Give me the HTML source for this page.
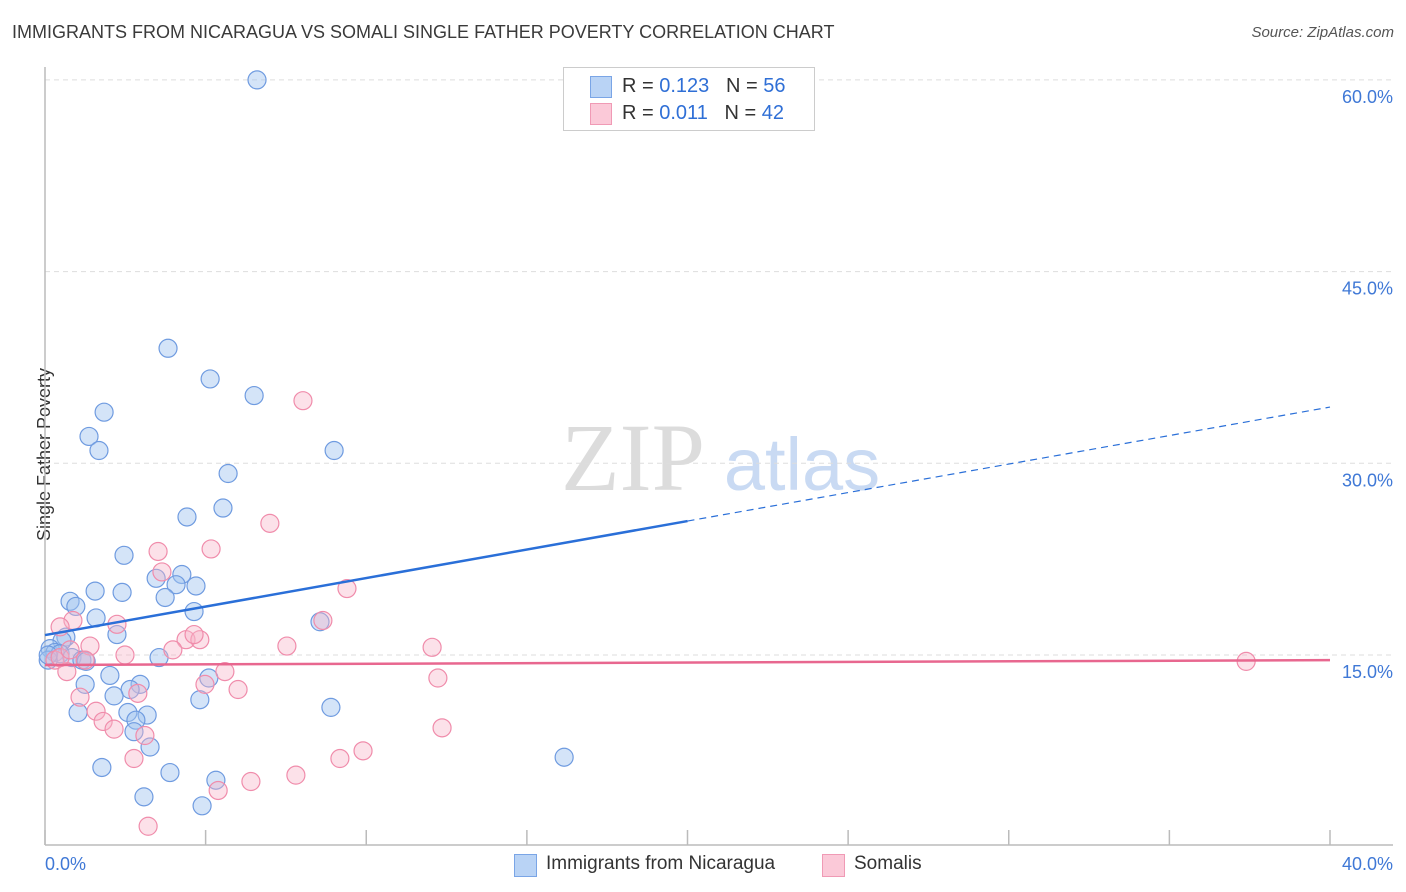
<!DOCTYPE html>
<html><head><meta charset="utf-8"><style>
body{margin:0;background:#fff;font-family:"Liberation Sans",sans-serif;}
#wrap{position:relative;width:1406px;height:892px;overflow:hidden;}
.t{position:absolute;white-space:nowrap;}
</style></head><body>
<div id="wrap">
<div class="t" style="left:12px;top:22px;font-size:18px;color:#3a3a3a;">IMMIGRANTS FROM NICARAGUA VS SOMALI SINGLE FATHER POVERTY CORRELATION CHART</div>
<div class="t" style="right:12px;top:24px;font-size:15px;color:#555;font-style:italic;">Source: ZipAtlas.com</div>
<div class="t" style="left:-42px;top:444px;font-size:18px;color:#333;transform:rotate(-90deg);">Single Father Poverty</div>
<svg id="plot" width="1406" height="892" style="position:absolute;left:0;top:0"></svg>
<div style="position:absolute;left:563px;top:67px;width:250px;height:62px;border:1px solid #ccc;background:#fff;font-size:20px;">
 <div style="position:absolute;left:26px;top:8px;width:20px;height:20px;background:#b9d3f5;border:1px solid #7aa5e6;"></div>
 <div class="t" style="left:58px;top:7px;color:#333;">R = <span style="color:#2f6fd6">0.123</span>&nbsp;&nbsp;&nbsp;N = <span style="color:#2f6fd6">56</span></div>
 <div style="position:absolute;left:26px;top:35px;width:20px;height:20px;background:#fbc9d8;border:1px solid #f09ab5;"></div>
 <div class="t" style="left:58px;top:34px;color:#333;">R = <span style="color:#2f6fd6">0.011</span>&nbsp;&nbsp;&nbsp;N = <span style="color:#2f6fd6">42</span></div>
</div>
<div style="position:absolute;left:514px;top:854px;width:21px;height:21px;background:#b9d3f5;border:1px solid #7aa5e6;"></div>
<div class="t" style="left:546px;top:853px;font-size:19px;color:#333;">Immigrants from Nicaragua</div>
<div style="position:absolute;left:822px;top:854px;width:21px;height:21px;background:#fbc9d8;border:1px solid #f09ab5;"></div>
<div class="t" style="left:854px;top:853px;font-size:19px;color:#333;">Somalis</div>
</div>
<script>
const xTicks=[0,5,10,15,20,25,30,35,40];
const yTicks=[15,30,45,60];
const yTickLabels=["15.0%","30.0%","45.0%","60.0%"];
const xEndLabels=["0.0%","40.0%"];
const blueX=[6.60,3.83,5.14,6.51,1.84,1.37,1.68,9.00,5.70,5.54,4.42,2.46,3.46,4.26,4.08,4.70,2.40,1.56,3.74,0.78,0.96,4.64,1.59,8.56,2.24,0.65,0.53,0.16,0.31,0.47,0.84,1.15,1.28,3.55,2.02,5.10,1.25,2.96,2.65,2.15,4.82,1.03,2.58,3.18,2.83,2.77,8.90,3.27,1.77,16.16,3.89,5.32,3.08,4.89,0.1,0.1];
const blueY=[60.0,39.0,36.6,35.3,34.0,32.1,31.0,31.0,29.2,26.5,25.8,22.8,21.0,21.3,20.5,20.4,19.9,20.0,19.5,19.2,18.8,18.4,17.9,17.6,16.6,16.4,16.1,15.5,15.2,15.1,14.8,14.6,14.5,14.8,13.4,13.2,12.7,12.7,12.3,11.8,11.5,10.5,10.5,10.3,9.9,9.0,10.9,7.8,6.2,7.0,5.8,5.2,3.9,3.2,14.6,15.0];
const pinkX=[8.03,7.00,5.17,3.52,3.64,9.40,2.24,0.87,0.47,8.65,4.39,4.82,4.64,1.40,3.98,7.53,12.05,2.49,0.31,0.68,5.60,4.98,6.01,12.23,1.09,2.89,1.59,1.81,2.15,12.36,3.11,9.90,9.18,2.77,7.81,6.41,5.39,3.21,37.39,1.25,0.47,0.78];
const pinkY=[34.9,25.3,23.3,23.1,21.5,20.2,17.4,17.7,17.2,17.7,16.2,16.2,16.6,15.7,15.4,15.7,15.6,15.0,14.6,13.7,13.7,12.7,12.3,13.2,11.7,12.0,10.6,9.8,9.2,9.3,8.7,7.5,6.9,6.9,5.6,5.1,4.4,1.6,14.5,14.6,14.8,15.4];
const blueTrend=[16.56,0.446];
const pinkTrend=[14.22,0.0095];
const X=v=>45+v*32.125, Y=v=>655-(v-15)*12.78;
const svg=document.getElementById('plot');
const NS='http://www.w3.org/2000/svg';
function mk(tag,attrs){const e=document.createElementNS(NS,tag);for(const k in attrs)e.setAttribute(k,attrs[k]);svg.appendChild(e);return e;}
// watermark
let w1=mk('text',{x:633,y:490,'font-size':96,'font-family':'Liberation Serif, serif',fill:'#dcdcdc','text-anchor':'middle'});w1.textContent='ZIP';


let w2=mk('text',{x:802,y:490,'font-size':74,'font-family':'Liberation Sans, sans-serif',fill:'#c9daf3','text-anchor':'middle'});w2.textContent='atlas';


yTicks.forEach((t,i)=>{
 let g=mk('line',{x1:45,x2:1393,y1:Y(t),y2:Y(t),stroke:'#ddd','stroke-dasharray':'5,4'});
 
 
 let l=mk('text',{x:1393,y:Y(t)+23,'font-size':18,fill:'#3f78d6','text-anchor':'end','font-family':'Liberation Sans, sans-serif'});l.textContent=yTickLabels[i];
 
 
});
let ax=mk('line',{x1:45,x2:1393,y1:845,y2:845,stroke:'#bbb','stroke-width':1.5});


let ay=mk('line',{x1:45,x2:45,y1:67,y2:845,stroke:'#bbb','stroke-width':1.5});


xTicks.forEach(t=>{let k=mk('line',{x1:X(t),x2:X(t),y1:830,y2:845,stroke:'#bbb','stroke-width':1.5});
 
 });
[[0,'start',45],[40,'end',1393]].forEach((d,i)=>{let l=mk('text',{x:d[2],y:870,'font-size':18,fill:'#3f78d6','text-anchor':d[1],'font-family':'Liberation Sans, sans-serif'});l.textContent=xEndLabels[i];
 
 });
blueX.forEach((x,i)=>{let c=mk('circle',{cx:X(x),cy:Y(blueY[i]),r:9,fill:'rgba(160,195,240,0.45)',stroke:'#6f9be0','stroke-width':1.2});
 
 });
pinkX.forEach((x,i)=>{let c=mk('circle',{cx:X(x),cy:Y(pinkY[i]),r:9,fill:'rgba(248,180,200,0.4)',stroke:'#f08cab','stroke-width':1.2});
 
 });
const bt=x=>blueTrend[0]+blueTrend[1]*x, pt=x=>pinkTrend[0]+pinkTrend[1]*x;
let b1=mk('line',{x1:X(0),y1:Y(bt(0)),x2:X(20),y2:Y(bt(20)),stroke:'#2a6fd8','stroke-width':2.5});


let b2=mk('line',{x1:X(20),y1:Y(bt(20)),x2:X(40),y2:Y(bt(40)),stroke:'#2a6fd8','stroke-width':1.2,'stroke-dasharray':'7,5'});


let p1=mk('line',{x1:X(0),y1:Y(pt(0)),x2:X(40),y2:Y(pt(40)),stroke:'#e8678f','stroke-width':2.5});


</script>
</body></html>
